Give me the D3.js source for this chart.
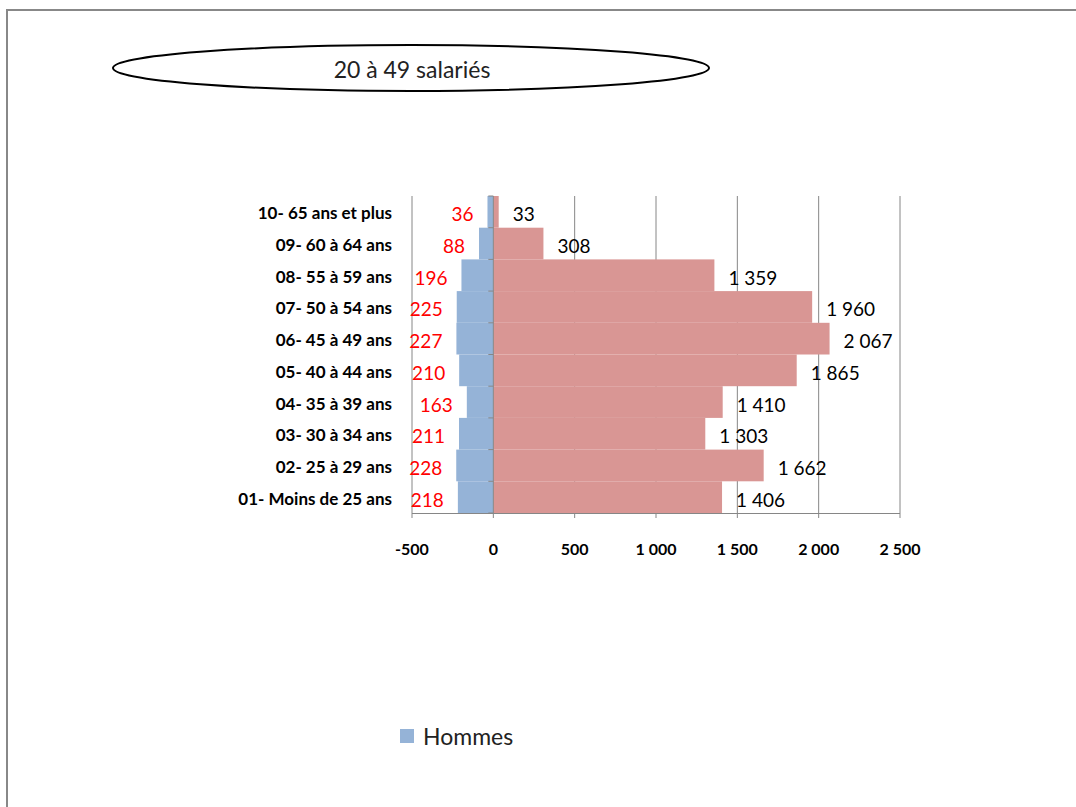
<!DOCTYPE html>
<html><head><meta charset="utf-8">
<script src="https://cdn.jsdelivr.net/npm/d3@7"></script>
<style>body{margin:0;background:#fff}svg{display:block}</style>
</head><body>
<script>
const categories = ["10- 65 ans et plus","09- 60 à 64 ans","08- 55 à 59 ans","07- 50 à 54 ans","06- 45 à 49 ans","05- 40 à 44 ans","04- 35 à 39 ans","03- 30 à 34 ans","02- 25 à 29 ans","01- Moins de 25 ans"];
const hommes = [36, 88, 196, 225, 227, 210, 163, 211, 228, 218];
const femmes = [33, 308, 1359, 1960, 2067, 1865, 1410, 1303, 1662, 1406];
const xTicks = [-500, 0, 500, 1000, 1500, 2000, 2500];
const title = "20 à 49 salariés";
const legendLabel = "Hommes";

const W = 1076, H = 807;
const svg = d3.select("body").append("svg").attr("width", W).attr("height", H);
const FONT = "Lato, 'Open Sans', sans-serif";
const fmt = v => d3.format(",")(v).replace(/,/g, " ");

// frame
svg.append("path").attr("d", `M7,${H} V10 H${W}`).attr("fill","none").attr("stroke","#888").attr("stroke-width",2);

// title ellipse
svg.append("ellipse").attr("cx",411).attr("cy",68).attr("rx",298).attr("ry",23)
  .attr("fill","#fff").attr("stroke","#000").attr("stroke-width",2);
svg.append("text").attr("x",412).attr("y",69).attr("text-anchor","middle").attr("dominant-baseline","central")
  .attr("font-family",FONT).attr("font-size",23).attr("fill","#222").text(title);

const x = d3.scaleLinear().domain([-500, 2500]).range([412, 900]);
const y = d3.scaleBand().domain(categories).range([196, 513]).padding(0);

// gridlines
svg.append("g").selectAll("line").data(xTicks.filter(t => t !== 0)).join("line")
  .attr("x1", d => x(d)).attr("x2", d => x(d)).attr("y1", y.range()[0]).attr("y2", y.range()[1] + 5)
  .attr("stroke","#868686").attr("stroke-width",1);

// bars
svg.append("g").selectAll("rect").data(hommes).join("rect")
  .attr("x", d => x(-d)).attr("width", d => x(0) - x(-d))
  .attr("y", (d,i) => y(categories[i])).attr("height", y.bandwidth())
  .attr("fill","#95B3D7");
svg.append("g").selectAll("rect").data(femmes).join("rect")
  .attr("x", x(0)).attr("width", d => x(d) - x(0))
  .attr("y", (d,i) => y(categories[i])).attr("height", y.bandwidth())
  .attr("fill","#D99694");

// axes lines
svg.append("line").attr("x1", x(-500)).attr("x2", x(2500)).attr("y1", 513.5).attr("y2", 513.5).attr("stroke","#868686");
svg.append("line").attr("x1", x(0)).attr("x2", x(0)).attr("y1", 196).attr("y2", 518).attr("stroke","#868686");
svg.append("g").selectAll("line").data(d3.range(categories.length + 1)).join("line")
  .attr("x1", x(0) - 5).attr("x2", x(0)).attr("y1", i => 196 + i * y.step()).attr("y2", i => 196 + i * y.step())
  .attr("stroke","#868686");

// x tick labels
svg.append("g").selectAll("text").data(xTicks).join("text")
  .attr("x", d => x(d)).attr("y", 548).attr("text-anchor","middle").attr("dominant-baseline","central")
  .attr("font-family",FONT).attr("font-weight","bold").attr("font-size",16).attr("fill","#000")
  .text(d => d < 0 ? "-" + fmt(-d) : fmt(d));

// y labels
svg.append("g").selectAll("text").data(categories).join("text")
  .attr("x", 392).attr("y", d => y(d) + y.bandwidth()/2 + 1).attr("text-anchor","end").attr("dominant-baseline","central")
  .attr("font-family",FONT).attr("font-weight","bold").attr("font-size",17).attr("fill","#000")
  .text(d => d);

// data labels
svg.append("g").selectAll("text").data(hommes).join("text")
  .attr("x", d => x(-d) - 14).attr("y", (d,i) => y(categories[i]) + y.bandwidth()/2 + 2)
  .attr("text-anchor","end").attr("dominant-baseline","central")
  .attr("font-family",FONT).attr("font-size",19).attr("fill","#FF0000").text(d => fmt(d));
svg.append("g").selectAll("text").data(femmes).join("text")
  .attr("x", d => x(d) + 14).attr("y", (d,i) => y(categories[i]) + y.bandwidth()/2 + 2)
  .attr("text-anchor","start").attr("dominant-baseline","central")
  .attr("font-family",FONT).attr("font-size",19).attr("fill","#000").text(d => fmt(d));

// legend
svg.append("rect").attr("x",400).attr("y",729).attr("width",14).attr("height",14).attr("fill","#95B3D7");
svg.append("text").attr("x",423).attr("y",736).attr("dominant-baseline","central")
  .attr("font-family",FONT).attr("font-size",23).attr("fill","#222").text(legendLabel);
</script>
</body></html>
